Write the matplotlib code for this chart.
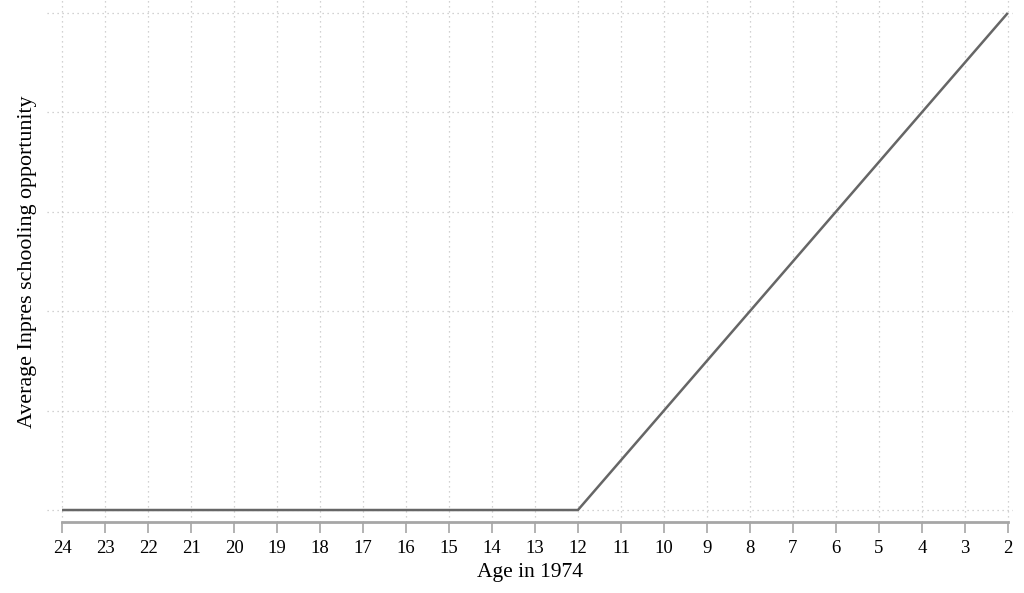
import numpy as np
import matplotlib
matplotlib.use("Agg")
import matplotlib.pyplot as plt

# Average Inpres schooling opportunity by age in 1974
AGES = [24, 23, 22, 21, 20, 19, 18, 17, 16, 15, 14, 13, 12, 11, 10, 9, 8, 7, 6, 5, 4, 3, 2]
EXPOSURE = [0.0, 0.0, 0.0, 0.0, 0.0, 0.0, 0.0, 0.0, 0.0, 0.0, 0.0, 0.0, 0.0,
            0.1, 0.2, 0.3, 0.4, 0.5, 0.6, 0.7, 0.8, 0.9, 1.0]
Y_TICKS = [0.0, 0.2, 0.4, 0.6, 0.8, 1.0]

plt.rcParams["font.family"] = ["Liberation Serif", "DejaVu Serif"]

fig = plt.figure(figsize=(10.24, 5.93), dpi=100)
W, H = 1024, 593
ax = fig.add_axes([47 / W, (H - 522) / H, (1013 - 47) / W, 522 / H])

ax.plot(AGES, EXPOSURE, color="#666666", lw=1.8, solid_capstyle="butt", zorder=3)

ax.set_xlim(24.35, 1.88)
ax.set_ylim(-0.0241, 1.026)
ax.set_xticks(AGES)
ax.set_xticklabels([str(a) for a in AGES], fontsize=13.5)
ax.set_yticks(Y_TICKS)
ax.set_yticklabels([])
ax.tick_params(axis="y", length=0)
ax.tick_params(axis="x", length=8, width=1.2, color="#a6a6a6", pad=5)

ax.grid(True, which="major", ls=(0, (1, 3)), color="#c4c4c4", lw=0.9)
ax.set_axisbelow(True)

for s in ["top", "right", "left"]:
    ax.spines[s].set_visible(False)
ax.spines["bottom"].set_color("#a6a6a6")
ax.spines["bottom"].set_linewidth(2)
ax.spines["bottom"].set_bounds(24, 2)

ax.set_xlabel("Age in 1974", fontsize=15.5, labelpad=4)
fig.text(28 / W, 1 - 262 / H, "Average Inpres schooling opportunity",
         rotation=90, ha="center", va="center", fontsize=15.8)

fig.savefig("out.png", dpi=100)
